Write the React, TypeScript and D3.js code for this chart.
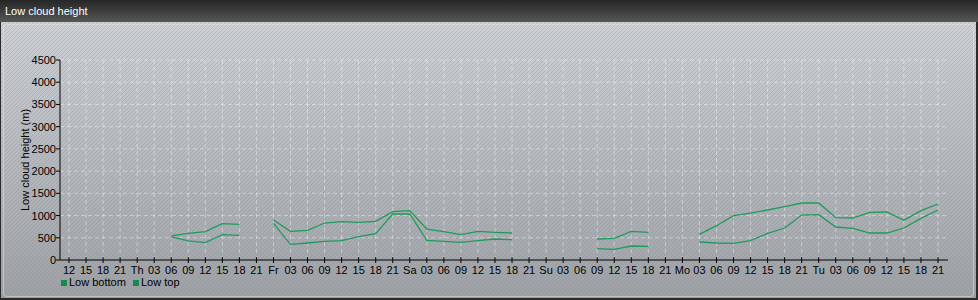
import React from "react";
import * as d3 from "d3";

const tickLabels: string[] = [
  "12", "15", "18", "21",
  "Th", "03", "06", "09", "12", "15", "18", "21",
  "Fr", "03", "06", "09", "12", "15", "18", "21",
  "Sa", "03", "06", "09", "12", "15", "18", "21",
  "Su", "03", "06", "09", "12", "15", "18", "21",
  "Mo", "03", "06", "09", "12", "15", "18", "21",
  "Tu", "03", "06", "09", "12", "15", "18", "21",
];

const N = null;
// values per 3-hour step, aligned with tickLabels
const lowBottom: (number | null)[] = [
  N, N, N, N,
  N, N, 520, 428, 390, 570, 555, N,
  825, 352, 382, 420, 435, 525, 592, 1035,
  1035, 442, 420, 397, 435, 472, 457, N,
  N, N, N, 255, 240, 315, 307, N,
  N, 405, 382, 375, 435, 600, 720, 1012,
  1020, 742, 712, 607, 607, 720, 937, 1125,
];
const lowTop: (number | null)[] = [
  N, N, N, N,
  N, N, 545, 600, 637, 817, 802, N,
  900, 645, 667, 832, 862, 847, 870, 1087,
  1110, 697, 637, 570, 645, 622, 607, N,
  N, N, N, 472, 487, 645, 622, N,
  N, 577, 772, 997, 1057, 1125, 1200, 1282,
  1282, 952, 945, 1072, 1080, 892, 1110, 1260,
];
const yTicks: number[] = [0, 500, 1000, 1500, 2000, 2500, 3000, 3500, 4000, 4500];

const W = 978;
const H = 300;
const lineColor = "#1f9a5c";
const font = "Arial, 'Liberation Sans', sans-serif";

export default function App() {
  const x = d3.scaleLinear().domain([0, tickLabels.length - 1]).range([69, 938]);
  const y = d3.scaleLinear().domain([0, 4500]).range([260, 60]);
  const plotLeft = 60;
  const plotRight = 948;

  const line = d3
    .line<number | null>()
    .defined((d) => d != null)
    .x((_, i) => x(i))
    .y((d) => y(d as number));

  return (
    <svg
      width={W}
      height={H}
      style={{ position: "absolute", left: 0, top: 0, display: "block" }}
      fontFamily={font}
    >
      <defs>
        <linearGradient id="bg" x1="0" y1="0" x2="0" y2="1">
          <stop offset="0" stopColor="#cdd1d6" />
          <stop offset="1" stopColor="#9da1a5" />
        </linearGradient>
        <linearGradient id="title" x1="0" y1="0" x2="0" y2="1">
          <stop offset="0" stopColor="#262626" />
          <stop offset="1" stopColor="#555656" />
        </linearGradient>
        <pattern id="stripes" width="4" height="4" patternUnits="userSpaceOnUse">
          <path d="M-1,1 l2,-2 M0,4 l4,-4 M3,5 l2,-2" stroke="#8a8f96" strokeOpacity="0.35" strokeWidth="1" />
        </pattern>
      </defs>
      <rect x={0} y={0} width={W} height={H} fill="#2b2b2b" />
      <rect x={1} y={22} width={W - 3} height={H - 24} fill="url(#bg)" />
      <rect x={1} y={22} width={W - 3} height={H - 24} fill="url(#stripes)" />
      <rect
        x={3.5}
        y={24.5}
        width={W - 8}
        height={H - 28}
        rx={3}
        fill="none"
        stroke="#e4e7ea"
        strokeOpacity={0.5}
      />
      <rect x={0} y={0} width={W} height={22} fill="url(#title)" />
      <text x={5} y={15} fill="#ffffff" fontSize={11}>
        Low cloud height
      </text>

      {/* grid */}
      {yTicks.slice(1).map((t) => (
        <line
          key={"gy" + t}
          x1={plotLeft}
          x2={plotRight}
          y1={y(t)}
          y2={y(t)}
          stroke="#ffffff"
          strokeOpacity={0.4}
          strokeDasharray="4,3"
        />
      ))}
      {tickLabels.map((_, i) => (
        <line
          key={"gx" + i}
          x1={x(i)}
          x2={x(i)}
          y1={y(4500)}
          y2={y(0)}
          stroke="#ffffff"
          strokeOpacity={0.4}
          strokeDasharray="4,3"
        />
      ))}

      {/* axes */}
      <line x1={plotLeft} x2={plotLeft} y1={y(4500)} y2={y(0)} stroke="#000" />
      <line x1={plotLeft} x2={plotRight} y1={y(0)} y2={y(0)} stroke="#000" />
      {yTicks.map((t) => (
        <g key={"yt" + t}>
          <line x1={plotLeft - 4} x2={plotLeft} y1={y(t)} y2={y(t)} stroke="#000" />
          <text x={plotLeft - 4} y={y(t) + 4} fontSize={11} textAnchor="end" fill="#000">
            {t}
          </text>
        </g>
      ))}
      {tickLabels.map((l, i) => (
        <g key={"xt" + i}>
          <line x1={x(i)} x2={x(i)} y1={y(0) - 3} y2={y(0) + 3} stroke="#000" />
          <text x={x(i)} y={y(0) + 14} fontSize={11} textAnchor="middle" fill="#000">
            {l}
          </text>
        </g>
      ))}
      <text
        transform={`translate(29,${y(2250)}) rotate(-90)`}
        fontSize={11}
        textAnchor="middle"
        fill="#000"
      >
        Low cloud height (m)
      </text>

      {/* series */}
      <path d={line(lowBottom) || ""} fill="none" stroke={lineColor} strokeWidth={1.3} />
      <path d={line(lowTop) || ""} fill="none" stroke={lineColor} strokeWidth={1.3} />

      {/* legend */}
      <rect x={61} y={280} width={6} height={6} fill="#178a4c" />
      <text x={69} y={286} fontSize={11} fill="#000">
        Low bottom
      </text>
      <rect x={133} y={280} width={6} height={6} fill="#178a4c" />
      <text x={141} y={286} fontSize={11} fill="#000">
        Low top
      </text>
    </svg>
  );
}
